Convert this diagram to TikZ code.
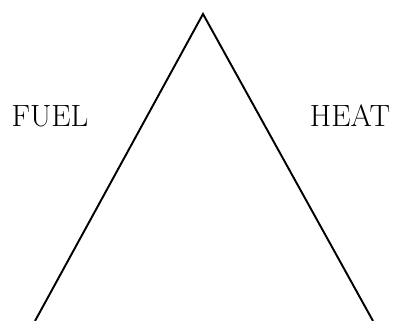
\documentclass[tikz,border=0pt]{standalone}
\usepackage{tikz}
\usetikzlibrary{positioning,calc}
\tikzset{side/.style={line width=1.1pt, draw=black}}
\tikzset{sidelabel/.style={font=\fontsize{17.5}{21}\selectfont, inner sep=0pt}}

\begin{document}
\begin{tikzpicture}[x=1cm,y=1cm]
\useasboundingbox (0,0) rectangle (7.92,6.42);
\coordinate (apex) at (4.06,6.14);
\coordinate (baseL) at (0.70,0);
\coordinate (baseR) at (7.46,0);
\draw[side] (baseL) -- (apex) -- (baseR);
\foreach \x/\txt/\nm in {1.0/FUEL/fuel,7.0/HEAT/heat} {
  \node[sidelabel] (\nm) at (\x,4.1) {\txt};
}
\end{tikzpicture}
\end{document}
